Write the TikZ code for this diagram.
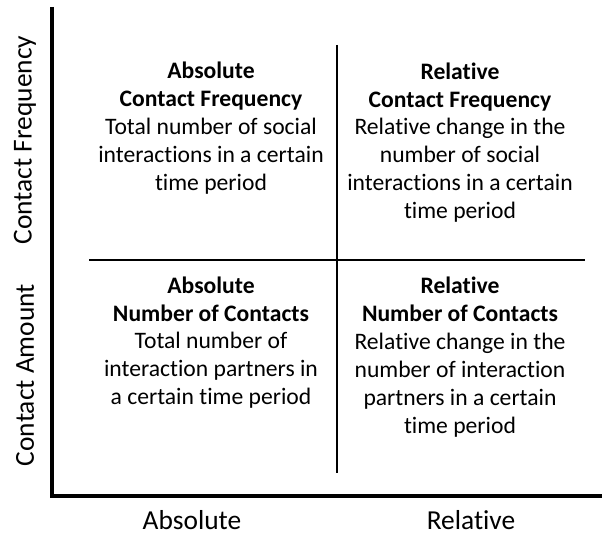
\documentclass[tikz,border=0pt]{standalone}
\usepackage{fontspec}
\setmainfont{Carlito}[Ligatures=NoCommon]
\usepackage{tikz}
\usetikzlibrary{positioning,calc}

\begin{document}
\begin{tikzpicture}[
    quad/.style={align=center, font=\fontsize{16.8pt}{19.9pt}\selectfont, inner sep=0pt},
    axislabel/.style={font=\fontsize{19.5pt}{23pt}\selectfont, inner sep=0pt},
    axis/.style={line width=2.6pt},
    divider/.style={line width=1.7pt}
]
\useasboundingbox (0,0) rectangle (15.05,13.375);

% Axes
\coordinate (origin) at (1.3, 0.975);
\draw[axis] (1.3, 13.2) -- (origin) -- (15.05, 0.975);

% Dividers
\draw[divider] (8.425, 12.25) -- (8.425, 1.55);
\draw[divider] (2.225, 6.875) -- (14.625, 6.875);

% Top left
\node[quad] (absfreq) at (5.275, 10.17) {\textbf{Absolute}\\\textbf{Contact Frequency}\\Total number of social\\interactions in a certain\\time period};

% Top right
\node[quad] (relfreq) at (11.5, 9.81) {\textbf{Relative}\\\textbf{Contact Frequency}\\Relative change in the\\number of social\\interactions in a certain\\time period};

% Bottom left
\node[quad] (abscont) at (5.275, 4.81) {\textbf{Absolute}\\\textbf{Number of Contacts}\\Total number of\\interaction partners in\\a certain time period};

% Bottom right
\node[quad] (relcont) at (11.5, 4.45) {\textbf{Relative}\\\textbf{Number of Contacts}\\Relative change in the\\number of interaction\\partners in a certain\\time period};

% Axis labels
\node[axislabel, rotate=90] (freqlabel) at (0.625, 9.875) {Contact Frequency};
\node[axislabel, rotate=90] (amountlabel) at (0.625, 4.0) {Contact Amount};
\node[axislabel] (abslabel) at (4.8, 0.375) {Absolute};
\node[axislabel] (rellabel) at (11.775, 0.375) {Relative};

\end{tikzpicture}
\end{document}
